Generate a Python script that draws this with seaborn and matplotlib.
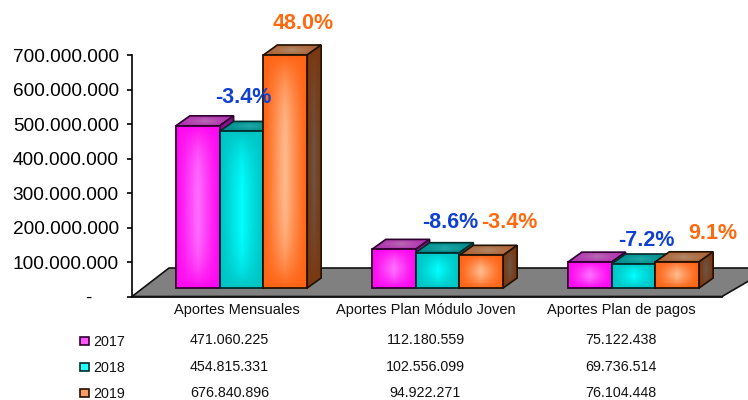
import numpy as np
import pandas as pd
import seaborn as sns
import matplotlib
matplotlib.use("Agg")
import matplotlib.pyplot as plt
from matplotlib.patches import Polygon, Rectangle
from matplotlib.transforms import ScaledTranslation

categories = ["Aportes Mensuales", "Aportes Plan Módulo Joven", "Aportes Plan de pagos"]
years = ["2017", "2018", "2019"]
values_2017 = [471060225, 112180559, 75122438]
values_2018 = [454815331, 102556099, 69736514]
values_2019 = [676840896, 94922271, 76104448]
value_labels_2017 = ["471.060.225", "112.180.559", "75.122.438"]
value_labels_2018 = ["454.815.331", "102.556.099", "69.736.514"]
value_labels_2019 = ["676.840.896", "94.922.271", "76.104.448"]
ytick_values = [0, 100e6, 200e6, 300e6, 400e6, 500e6, 600e6, 700e6]
ytick_labels = ["-     ", "100.000.000", "200.000.000", "300.000.000", "400.000.000",
                "500.000.000", "600.000.000", "700.000.000"]
change_2018 = ["-3.4%", "-8.6%", "-7.2%"]
change_2019 = ["48.0%", "-3.4%", "9.1%"]

# layout, in reference pixels
W, H = 748, 400
BASE_PY, UNIT = 288.0, 241.0 / 700e6
CAT0_PX, CAT_STEP = 241.5, 196.0
DX, DY = 14.0, 10.0
blue_pos = [(243, 98), (450, 223), (646, 241)]
orange_pos = [(303, 24), (509, 223), (713, 234)]
row_py = [340, 367, 393]
legend_py = [340.5, 367, 393]
col_px = [229.5, 425.5, 621]

styles = {
    "2017": dict(front=("#FF08F0", "#FF70FF"), side=("#8A0A8A", "#A040A0"),
                 top=("#B030B0", "#B868B0"), edge="#2E002E", swatch="#FF55FF"),
    "2018": dict(front=("#00C4C4", "#00FFFF"), side=("#006E6E", "#108080"),
                 top=("#008C8C", "#20A8A8"), edge="#002C2C", swatch="#22FFFF"),
    "2019": dict(front=("#FF6414", "#FFBC90"), side=("#7A3810", "#6C5648"),
                 top=("#AE6234", "#B08868"), edge="#221000", swatch="#FF9A66"),
}

sns.set_style("white")
plt.rcParams["font.family"] = ["Liberation Sans", "DejaVu Sans"]

fig = plt.figure(figsize=(W / 100, H / 100), dpi=100, facecolor="white")

def fig_box(x0, ytop, x1, ybot):
    return [x0 / W, 1 - ybot / H, (x1 - x0) / W, (ybot - ytop) / H]

# frame with the value axis and the category labels
ax_y = fig.add_axes(fig_box(132, 55.5, 722, 296.5), facecolor="none")
ax_y.set_ylim(0, 700e6)
ax_y.set_xlim(-(col_px[0] - 132) / CAT_STEP, (722 - col_px[0]) / CAT_STEP)
ax_y.set_yticks(ytick_values)
ax_y.set_yticklabels(ytick_labels, fontsize=13.7, color="black")
ax_y.set_xticks(range(3))
ax_y.set_xticklabels(categories, fontsize=10.5, color="#111111")
ax_y.tick_params(axis="y", length=3.5, width=1.2, color="black", pad=6, left=True)
ax_y.tick_params(axis="x", length=0, pad=5)
ax_y.xaxis.get_majorticklabels()[0].set_transform(
    ax_y.xaxis.get_majorticklabels()[0].get_transform()
    + ScaledTranslation(7.5 / 100, 0, fig.dpi_scale_trans))
for s in ["top", "right"]:
    ax_y.spines[s].set_visible(False)
for s in ["left", "bottom"]:
    ax_y.spines[s].set_linewidth(1.2)
    ax_y.spines[s].set_color("black")

# bars: full-figure axes whose scales put the front plane of the columns in place
ax = fig.add_axes([0, 0, 1, 1], facecolor="none")
df = pd.DataFrame({
    "categoria": categories * 3,
    "valor": values_2017 + values_2018 + values_2019,
    "anio": [y for y in years for _ in categories],
})
sns.barplot(data=df, x="categoria", y="valor", hue="anio", hue_order=years, order=categories,
            palette=[styles[y]["front"][0] for y in years], width=0.67, gap=0,
            saturation=1, legend=False, errorbar=None, ax=ax)

def X(px):
    return (np.asarray(px, float) - CAT0_PX) / CAT_STEP
def Y(py):
    return (BASE_PY - np.asarray(py, float)) / UNIT
def PX(x):
    return CAT0_PX + x * CAT_STEP
def PY(y):
    return BASE_PY - y * UNIT

def glow(edge, center, tall):
    n = 80
    xx, yy = np.meshgrid(np.linspace(-1, 1, n), np.linspace(-1, 1, n))
    t = (1 - np.abs(xx)) ** 1.2 * (1 - np.abs(yy) ** (3 if tall else 1.5))
    e, c = np.array(matplotlib.colors.to_rgb(edge)), np.array(matplotlib.colors.to_rgb(center))
    return e + (c - e) * t[..., None]

def face(pts, colors, edge, z, lw=1.2):
    """pts in pixels: gradient clipped to the polygon, then an outline."""
    pts = np.asarray(pts, float)
    data = np.column_stack([X(pts[:, 0]), Y(pts[:, 1])])
    poly = Polygon(data, closed=True, facecolor=colors[0], edgecolor="none", zorder=z)
    ax.add_patch(poly)
    im = ax.imshow(glow(colors[0], colors[1], False),
                   extent=[data[:, 0].min(), data[:, 0].max(), data[:, 1].min(), data[:, 1].max()],
                   aspect="auto", zorder=z + 0.01, interpolation="bilinear")
    im.set_clip_path(poly)
    ax.add_patch(Polygon(data, closed=True, facecolor="none", edgecolor=edge, linewidth=lw,
                         zorder=z + 0.02, clip_on=False))

# floor
ax.add_patch(Polygon(np.column_stack([X([132, 169, 771, 722]), Y([296.5, 268, 268, 296.5])]),
                     closed=True, facecolor="#808080", edgecolor="#111111", linewidth=1.2, zorder=1))

z = 2.0
for yi, year in enumerate(years):
    st = styles[year]
    cont = ax.containers[yi]
    for bar in cont:
        x0, x1 = PX(bar.get_x()), PX(bar.get_x() + bar.get_width())
        ytop, ybot = PY(bar.get_height()), PY(0)
        face([(x0, ytop), (x0 + DX, ytop - DY), (x1 + DX, ytop - DY), (x1, ytop)], st["top"], st["edge"], z)
        face([(x1, ytop), (x1 + DX, ytop - DY), (x1 + DX, ybot - DY), (x1, ybot)], st["side"], st["edge"], z + 0.1)
        bar.set_zorder(z + 0.2)
        bar.set_edgecolor("none")
        im = ax.imshow(glow(st["front"][0], st["front"][1], (ybot - ytop) > 100),
                       extent=[bar.get_x(), bar.get_x() + bar.get_width(), 0, bar.get_height()],
                       aspect="auto", zorder=z + 0.21, interpolation="bilinear")
        im.set_clip_path(bar)
        ax.add_patch(Rectangle((bar.get_x(), 0), bar.get_width(), bar.get_height(), facecolor="none",
                               edgecolor=st["edge"], linewidth=1.3, zorder=z + 0.22))
        z += 0.5

ax.set_xlim(X(0), X(W))
ax.set_ylim(Y(H), Y(0))
ax.axis("off")

# change labels
for txt, (px, py) in zip(change_2018, blue_pos):
    ax.text(X(px), Y(py), txt, color="#1040D0", fontsize=15.5, fontweight="bold",
            ha="center", va="center", zorder=50)
for txt, (px, py) in zip(change_2019, orange_pos):
    ax.text(X(px), Y(py), txt, color="#FF6A10", fontsize=15.5, fontweight="bold",
            ha="center", va="center", zorder=50)

# data table with legend keys
rows = [value_labels_2017, value_labels_2018, value_labels_2019]
for year, row, py, lpy in zip(years, rows, row_py, legend_py):
    st = styles[year]
    ax.add_patch(Rectangle((X(80), Y(lpy + 4)), X(88.5) - X(80), Y(lpy - 4) - Y(lpy + 4),
                           facecolor=st["swatch"], edgecolor=st["edge"], linewidth=1.2, zorder=40))
    ax.text(X(93), Y(lpy + 1), year, fontsize=10.3, color="#111111", ha="left", va="center", zorder=40)
    for lab, px in zip(row, col_px):
        ax.text(X(px), Y(py), lab, fontsize=10.3, color="#111111", ha="center", va="center", zorder=40)

fig.savefig("out.png", dpi=100, facecolor="white")
